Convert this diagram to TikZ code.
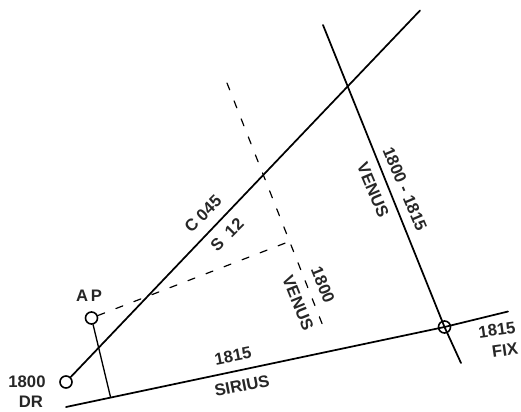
\documentclass[tikz,border=0pt]{standalone}
\usepackage{fontspec}
\setmainfont{Liberation Sans}
\tikzset{
  fixmark/.style={draw,circle,line width=1.2pt,minimum size=9pt,inner sep=0pt},
  posline/.style={line width=1.3pt},
  lopdash/.style={line width=0.9pt,dash pattern=on 5.5pt off 9pt},
  plotlabel/.style={font=\fontsize{12.5}{14}\selectfont\bfseries,inner sep=1pt,text=black!85}
}
\begin{document}
\begin{tikzpicture}[x=0.75pt,y=-0.75pt,line cap=round,line join=round]
  \useasboundingbox (0,0) rectangle (521,411);
  \node[fixmark] (dr) at (66,382) {};
  \node[fixmark] (ap) at (91.5,318) {};
  \node[fixmark] (fix) at (444.5,327) {};
  \coordinate (trackend) at (420,10.5);
  \coordinate (sirstart) at (66,407);
  \coordinate (sirend) at (508,311.5);
  \coordinate (venstart) at (323,25);
  \coordinate (venend) at (461,363);
  \coordinate (apfoot) at (110.5,397);
  \coordinate (apven) at (288,242);
  \coordinate (dashstart) at (227,83);
  \coordinate (dashend) at (323,326);
  % position lines
  \draw[posline] (dr) -- (trackend);
  \draw[posline] (sirstart) -- (fix.center) -- (sirend);
  \draw[posline] (venstart) -- (fix.center) -- (venend);
  \draw[posline,line width=1pt] (ap) -- (apfoot);
  \draw[lopdash] (ap) -- (apven);
  \draw[lopdash] (dashstart) -- (dashend);
  % labels
  \node[plotlabel] (aplabel) at (89,296) {A\,P};
  \node[plotlabel] (drtime) at (27,382) {1800};
  \node[plotlabel] (drlabel) at (31,402) {DR};
  \node[plotlabel,rotate=45] (course) at (203,214) {C 045};
  \node[plotlabel,rotate=45] (speed) at (227,235) {S\ \ 12};
  \node[plotlabel,rotate=11] (sirtime) at (233,356) {1815};
  \node[plotlabel,rotate=11] (sirlabel) at (242,386) {SIRIUS};
  \node[plotlabel,rotate=-68] (ventime) at (323,285) {1800};
  \node[plotlabel,rotate=-68] (venlabel) at (298,303) {VENUS};
  \node[plotlabel,rotate=-67] (runtime) at (405,189) {1800 - 1815};
  \node[plotlabel,rotate=-67] (runlabel) at (373,190) {VENUS};
  \node[plotlabel,rotate=8] (fixtime) at (497,330) {1815};
  \node[plotlabel,rotate=8] (fixlabel) at (505,350) {FIX};
\end{tikzpicture}
\end{document}
